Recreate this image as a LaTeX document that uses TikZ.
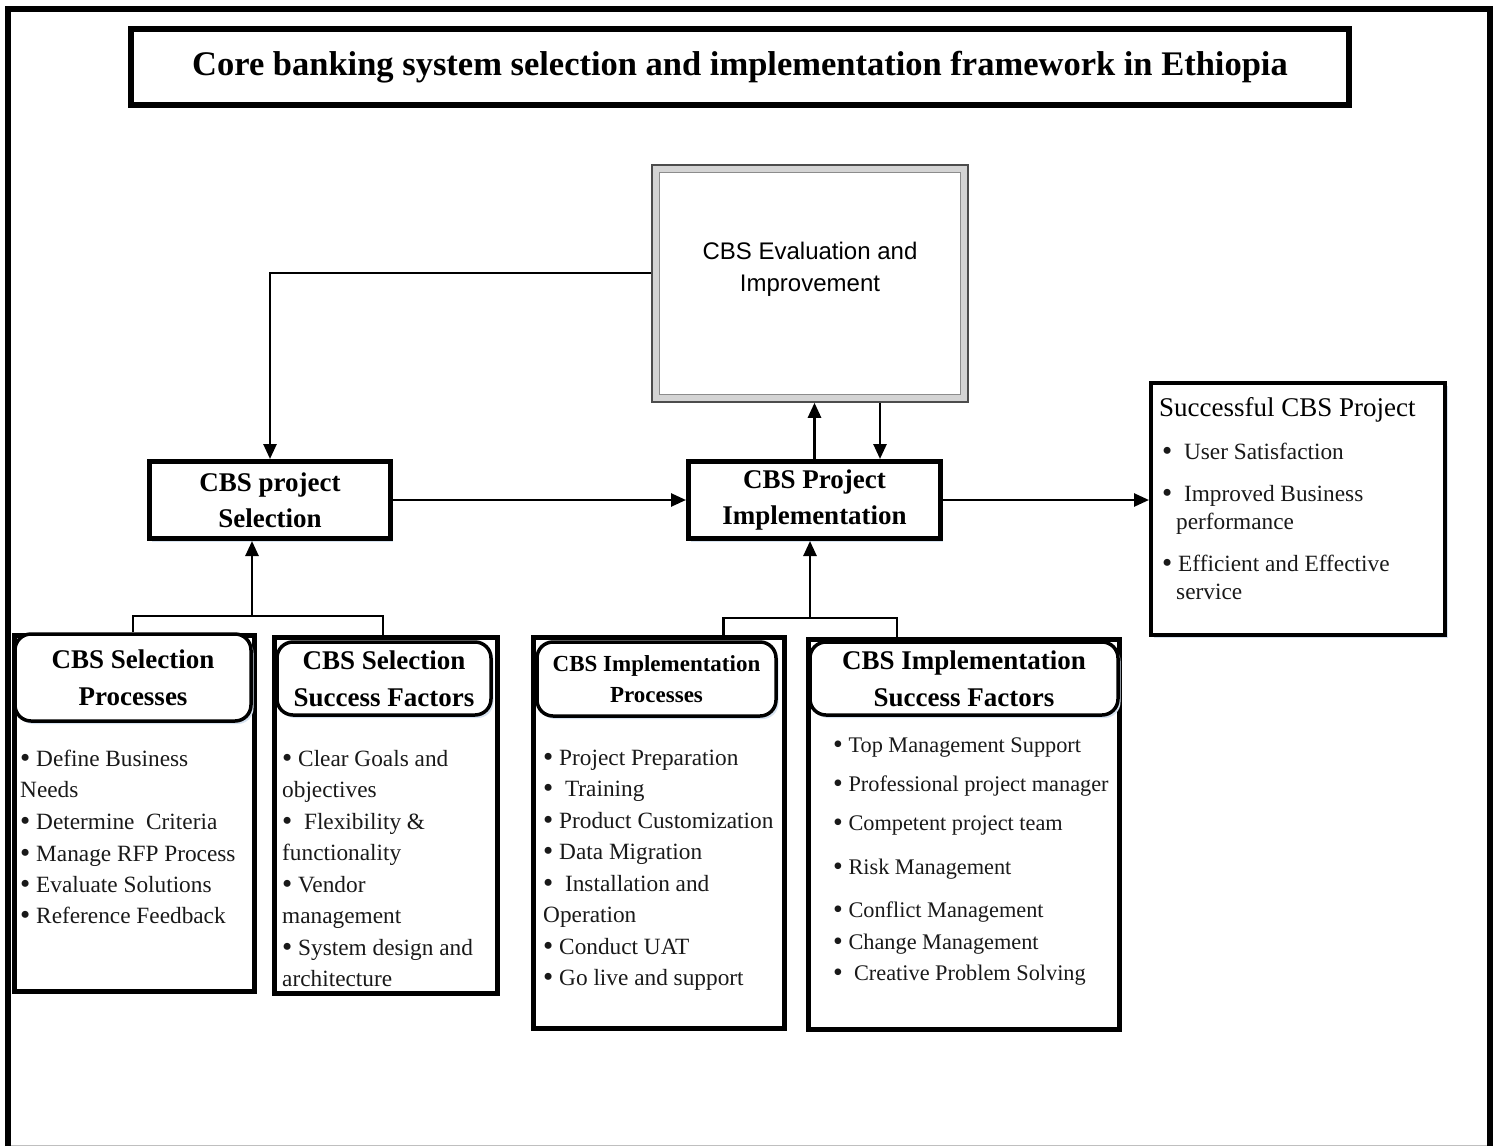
\documentclass[tikz,border=0pt]{standalone}
\usepackage{fontspec}
\setmainfont{Liberation Serif}
\newfontfamily\arialfam{Liberation Sans}
\usetikzlibrary{arrows.meta,shadows}
\definecolor{glow}{RGB}{214,226,240}
\definecolor{bevel}{RGB}{212,212,212}
\newcommand\fTitle{\fontsize{34.5}{40}\selectfont\bfseries}
\newcommand\fBox{\fontsize{27}{36}\selectfont\bfseries}
\newcommand\fHead{\fontsize{27}{37}\selectfont\bfseries}
\newcommand\fHeadSm{\fontsize{23}{31}\selectfont\bfseries}
\newcommand\fItem{\fontsize{23.3}{31}\selectfont}
\newcommand\fItemD{\fontsize{22.3}{31}\selectfont}
\newcommand\fGoal{\fontsize{27}{32}\selectfont}
\newcommand\fEval{\fontsize{24}{32}\selectfont\arialfam}
% a slightly enlarged list bullet
\newcommand\bul{\raisebox{-0.07em}{\scalebox{1.25}{•}}}

\tikzset{
  soft/.style={drop shadow={shadow xshift=2.5pt, shadow yshift=-3pt, fill=glow, opacity=1}},
  mainbox/.style={draw, line width=5pt, fill=white, align=center, inner sep=0pt, font=\fBox, soft},
  listbox/.style={draw, line width=5pt, fill=white, inner sep=0pt},
  headbox/.style={draw, line width=3.5pt, rounded corners=16pt, fill=white, align=center, inner sep=0pt, font=\fHead, soft},
  item/.style={anchor=base west, inner sep=0pt, font=\fItem, text=black!90},
  link/.style={line width=2.6pt},
  arrow/.style={link, -{Triangle[length=15pt,width=13pt]}},
}

\begin{document}
\begin{tikzpicture}[x=1pt,y=-1pt]
\useasboundingbox (0,0) rectangle (1499,1146);
\fill[white] (0,0) rectangle (1499,1146);

% outer frame
\draw[line width=6pt] (8,1146) -- (8,9) -- (1490,9) -- (1490,1146);
\draw[gray!50, line width=1pt] (11,1145) -- (1487,1145);

% title
\node[draw, line width=6pt, minimum width=1218pt, minimum height=76pt, inner sep=0pt, font=\fTitle]
  (title) at (740,67) {Core banking system selection and implementation framework in Ethiopia};

% evaluation box with bevelled frame
\node[draw=black!70, line width=1.5pt, fill=bevel, minimum width=316pt, minimum height=237pt, inner sep=0pt]
  (eval) at (810,283.5) {};
\fill[white, draw=black!45, line width=0.8pt]
  ([shift={(8pt,-8pt)}]eval.north west) rectangle ([shift={(-8pt,8pt)}]eval.south east);
\node[font=\fEval, align=center, inner sep=0pt] (evaltxt) at (810,269) {CBS Evaluation and\\Improvement};

% main stages
\node[mainbox, minimum width=241pt, minimum height=77pt] (sel) at (270,500) {CBS project\\Selection};
\node[mainbox, minimum width=252pt, minimum height=77pt] (impl) at (814.5,500) {CBS Project\\Implementation};
\node[listbox, line width=4pt, soft, minimum width=294pt, minimum height=252pt] (goal) at (1298,509) {};

% lower boxes with rounded headers
\node[listbox, minimum width=240pt, minimum height=356pt] (selproc) at (134.5,813) {};
\node[headbox, minimum width=236pt, minimum height=87pt] (selprochd) at (133,677.5) {CBS Selection\\Processes};
\node[listbox, minimum width=223.5pt, minimum height=356pt] (selfac) at (386,815) {};
\node[headbox, minimum width=214pt, minimum height=73pt] (selfachd) at (384,678.5) {CBS Selection\\Success Factors};
\node[listbox, minimum width=250.5pt, minimum height=390.5pt] (impproc) at (658.75,832.75) {};
\node[headbox, font=\fHeadSm, minimum width=239pt, minimum height=74pt] (impprochd) at (656.5,679) {CBS Implementation\\Processes};
\node[listbox, minimum width=311pt, minimum height=390pt] (impfac) at (964,834.5) {};
\node[headbox, minimum width=308pt, minimum height=73pt] (impfachd) at (964,678.5) {CBS Implementation\\Success Factors};

% connectors
\draw[arrow] ([yshift=10.5pt]eval.west) -| (sel.north);
\draw[arrow] (sel.east) -- (impl.west);
\draw[arrow] (impl.east) -- (impl.east -| goal.west);
\draw[arrow] (impl.north) -- (impl.north |- eval.south);
\draw[arrow] ([xshift=70pt]eval.south) -- ([xshift=70pt]eval.south |- impl.north);

\coordinate (selj) at (252,616);
\draw[arrow] (selj) -- (selj |- sel.south);
\draw[link] (selprochd.north) |- (selj) -| ([xshift=-3pt]selfac.north);

\coordinate (impj) at (810,618);
\draw[arrow] (impj) -- (impj |- impl.south);
\draw[link] ([xshift=65pt]impproc.north) |- (impj) -| ([xshift=-67pt]impfac.north);

% list contents
\foreach \yy/\lbl [count=\i] in {766/{\bul\ Define Business}, 797/{Needs}, 829/{\bul\ Determine\ \ Criteria},
    861/{\bul\ Manage RFP Process}, 892/{\bul\ Evaluate Solutions}, 923/{\bul\ Reference Feedback}}
  \node[item] (selprocitem\i) at (20,\yy) {\lbl};

\foreach \yy/\lbl [count=\i] in {766/{\bul\ Clear Goals and}, 797/{objectives}, 829/{\bul\ \ Flexibility \&},
    860/{functionality}, 892/{\bul\ Vendor}, 923/{management}, 955/{\bul\ System design and}, 986/{architecture}}
  \node[item] (selfacitem\i) at (282,\yy) {\lbl};

\foreach \yy/\lbl [count=\i] in {765/{\bul\ Project Preparation}, 796/{\bul\ \ Training}, 828/{\bul\ Product Customization},
    859/{\bul\ Data Migration}, 891/{\bul\ \ Installation and}, 922/{Operation}, 954/{\bul\ Conduct UAT}, 985/{\bul\ Go live and support}}
  \node[item] (impprocitem\i) at (543,\yy) {\lbl};

\foreach \yy/\lbl [count=\i] in {752/{\bul\ Top Management Support}, 791/{\bul\ Professional project manager},
    830/{\bul\ Competent project team}, 874/{\bul\ Risk Management}, 917/{\bul\ Conflict Management},
    949/{\bul\ Change Management}, 980/{\bul\ \ Creative Problem Solving}}
  \node[item, font=\fItemD] (impfacitem\i) at (833,\yy) {\lbl};

\node[anchor=base west, inner sep=0pt, font=\fGoal] (goalttl) at (1159,416) {Successful CBS Project};
\foreach \xx/\yy/\lbl [count=\i] in {1162/459/{\bul\ \ User Satisfaction}, 1162/501/{\bul\ \ Improved Business},
    1176/529/{performance}, 1162/571/{\bul\ Efficient and Effective}, 1176/599/{service}}
  \node[item] (goalitem\i) at (\xx,\yy) {\lbl};
\end{tikzpicture}
\end{document}
